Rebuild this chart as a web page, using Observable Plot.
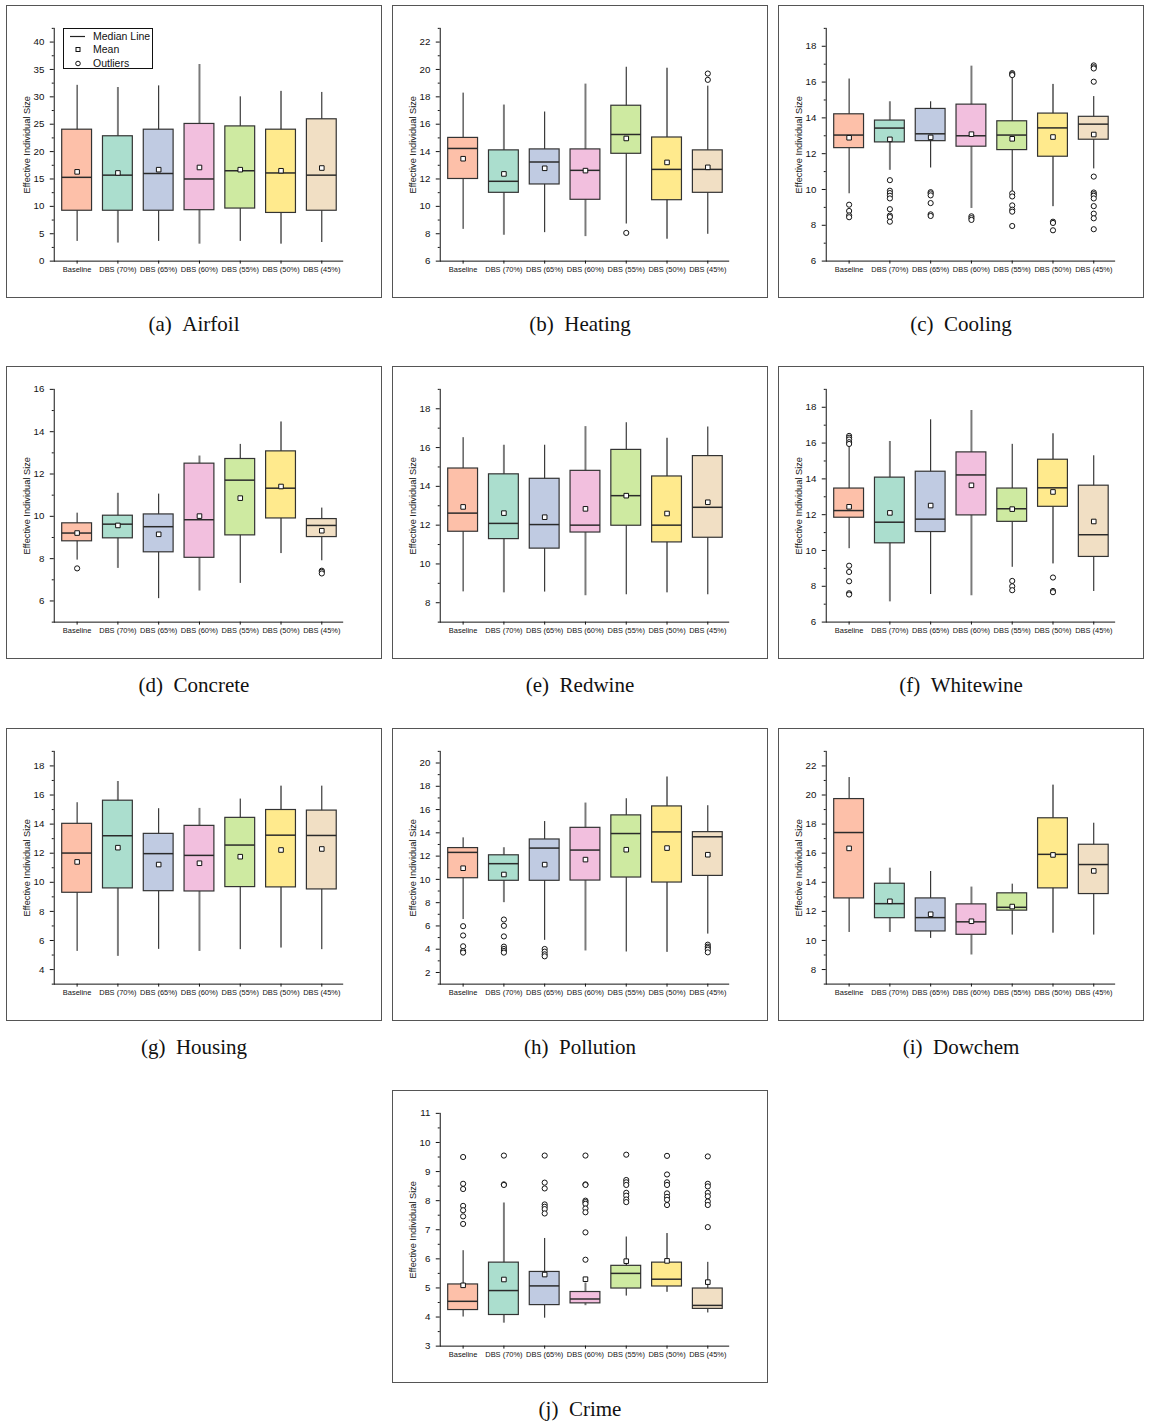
<!DOCTYPE html>
<html><head><meta charset="utf-8">
<script src="https://cdn.jsdelivr.net/npm/d3@7"></script>
<script src="https://cdn.jsdelivr.net/npm/@observablehq/plot@0.6"></script>
<style>
body{margin:0;background:#fff;}
#page{position:relative;width:1151px;height:1426px;background:#fff;}
.panel{position:absolute;height:293px;box-sizing:border-box;border:1px solid #555;overflow:hidden;background:#fff}
.panel svg{position:absolute;left:-1px;top:-1px}
.cap{position:absolute;text-align:center;font-family:"Liberation Serif","DejaVu Serif",serif;font-size:21px;line-height:24px;color:#111;white-space:pre}
.legend{position:absolute;left:56px;top:22px;width:90px;height:41px;box-sizing:border-box;border:1px solid #111;background:#fff;font-family:"Liberation Sans",Arial,sans-serif;font-size:10.5px;color:#111}
.legend .row{position:absolute;left:0;height:13px;line-height:13px;width:88px}
.legend .row span{position:absolute;left:29px;top:0}
.legend .row svg{position:absolute;left:4px;top:0}
</style>
</head><body>
<div id="page"></div>
<script>
const categories = ["Baseline","DBS (70%)","DBS (65%)","DBS (60%)","DBS (55%)","DBS (50%)","DBS (45%)"];
const palette = ["#FDC0A9","#ABDECE","#C0CBE2","#F2BFDE","#CEEAA1","#FFEA8D","#F1DFC4"];

// rows: [whiskerLow, q1, median, q3, whiskerHigh, mean]
const airfoilBox = [[3.6,9.2,15.3,24.0,32.1,16.3],[3.3,9.2,15.7,22.8,31.7,16.1],[3.6,9.2,16.0,24.0,32.0,16.7],[3.1,9.3,15.0,25.05,35.9,17.1],[3.6,9.6,16.5,24.6,30.0,16.7],[3.1,8.8,16.1,24.0,31.0,16.5],[3.4,9.2,15.7,25.9,30.8,17.0]];
const airfoilOut = [[],[],[],[],[],[],[]];

const heatingBox = [[8.32,12.0,14.23,15.0,18.27,13.48],[7.89,10.99,11.83,14.09,17.4,12.37],[8.08,11.6,13.24,14.16,16.89,12.78],[7.79,10.48,12.63,14.16,18.93,12.61],[8.71,13.84,15.25,17.35,20.16,14.96],[7.6,10.45,12.7,15.03,20.09,13.21],[7.96,10.99,12.7,14.09,18.78,12.85]];
const heatingOut = [[],[],[],[],[8.06],[],[19.7,19.24]];

const coolingBox = [[9.76,12.31,13.04,14.2,16.17,12.89],[11.07,12.63,13.43,13.85,14.9,12.8],[11.2,12.7,13.11,14.5,14.9,12.91],[8.94,12.39,13.0,14.74,16.89,13.09],[9.87,12.2,13.04,13.81,16.3,12.83],[9.04,11.83,13.44,14.24,15.87,12.93],[11.15,12.78,13.65,14.06,15.19,13.07]];
const coolingOut = [[9.15,8.8,8.55,8.45],[10.52,9.93,9.8,9.65,9.5,8.9,8.54,8.46,8.2],[9.85,9.78,9.67,9.24,8.61,8.52],[8.5,8.4,8.3],[16.5,16.44,16.39,9.78,9.61,9.11,8.87,8.76,7.96],[8.2,8.13,7.72],[16.93,16.83,16.76,16.02,10.72,9.83,9.74,9.65,9.5,9.07,8.65,8.39,7.78]];

const concreteBox = [[7.93,8.82,9.21,9.67,10.15,9.21],[7.54,8.96,9.63,10.03,11.09,9.57],[6.11,8.3,9.51,10.09,11.05,9.15],[6.47,8.04,9.84,12.49,12.85,10.01],[6.83,9.1,11.71,12.71,13.4,10.86],[8.24,9.9,11.33,13.07,14.46,11.41],[7.9,9.02,9.57,9.87,10.39,9.32]];
const concreteOut = [[7.54],[],[],[],[],[],[7.43,7.38,7.3]];

const redwineBox = [[8.56,11.66,12.62,14.92,16.51,12.94],[8.51,11.28,12.09,14.62,16.12,12.62],[8.55,10.79,12.03,14.39,16.12,12.41],[8.36,11.62,12.0,14.8,17.08,12.84],[8.41,11.97,13.52,15.88,17.28,13.52],[8.51,11.11,12.0,14.51,16.48,12.6],[8.41,11.35,12.92,15.56,17.06,13.18]];
const redwineOut = [[],[],[],[],[],[],[]];

const whitewineBox = [[10.1,11.83,12.23,13.46,15.8,12.44],[7.13,10.4,11.58,14.07,16.09,12.1],[7.54,11.03,11.75,14.4,17.3,12.51],[7.47,11.96,14.22,15.48,17.82,13.64],[9.06,11.6,12.33,13.46,15.93,12.31],[9.25,12.44,13.5,15.07,16.52,13.27],[7.71,9.64,10.88,13.62,15.29,11.62]];
const whitewineOut = [[16.4,16.3,16.2,16.05,15.95,9.15,8.8,8.28,7.61,7.54],[],[],[],[8.3,8.0,7.78],[8.49,7.74,7.67],[]];

const housingBox = [[5.25,9.28,12.01,14.02,15.47,11.4],[4.91,9.58,13.2,15.61,16.93,12.38],[5.39,9.39,11.97,13.33,15.06,11.22],[5.25,9.37,11.85,13.88,15.08,11.31],[5.37,9.67,12.56,14.43,15.72,11.76],[5.48,9.65,13.24,14.97,16.61,12.22],[5.37,9.51,13.22,14.93,16.61,12.29]];
const housingOut = [[],[],[],[],[],[],[]];

const pollutionBox = [[6.55,10.1,12.32,12.69,13.57,10.96],[8.0,9.88,11.35,12.07,12.72,10.42],[4.76,9.88,12.69,13.43,14.97,11.27],[3.85,9.9,12.52,14.43,16.56,11.7],[3.76,10.16,13.94,15.5,16.93,12.55],[3.73,9.73,14.08,16.27,18.8,12.69],[5.3,10.3,13.66,14.06,16.33,12.12]];
const pollutionOut = [[5.98,5.18,4.25,3.85,3.71],[6.55,6.01,5.1,4.22,4.02,3.85,3.71],[4.02,3.79,3.56,3.39],[],[],[],[4.39,4.22,4.1,3.96,3.73]];

const dowchemBox = [[10.55,12.89,17.42,19.72,21.2,16.33],[10.55,11.53,12.53,13.9,14.97,12.69],[10.14,10.62,11.57,12.89,14.74,11.8],[9.0,10.39,11.28,12.48,13.67,11.32],[10.37,12.05,12.28,13.24,13.87,12.33],[10.5,13.58,15.92,18.4,20.68,15.88],[10.37,13.19,15.22,16.58,18.06,14.78]];
const dowchemOut = [[],[],[],[],[],[],[]];

const crimeBox = [[4.0,4.24,4.54,5.12,6.28,5.09],[3.79,4.07,4.91,5.87,7.92,5.29],[3.96,4.41,5.07,5.55,6.7,5.46],[4.39,4.47,4.62,4.86,5.17,5.3],[4.72,4.98,5.5,5.76,6.75,5.92],[4.85,5.05,5.3,5.87,6.87,5.93],[4.14,4.28,4.4,4.98,5.88,5.2]];
const crimeOut = [[9.5,8.58,8.4,7.82,7.67,7.46,7.2],[9.55,8.56,8.54],[9.55,8.62,8.42,7.87,7.79,7.71,7.56],[9.55,8.56,8.54,8.0,7.95,7.89,7.73,7.6,6.91,5.97],[9.58,8.71,8.63,8.54,8.27,8.17,8.04,7.95],[9.54,8.9,8.63,8.54,8.25,8.13,8.03,7.85],[9.52,8.58,8.49,8.27,8.15,7.97,7.85,7.09]];

// y axis: major ticks, minor ticks
const airfoilTicks = [0,5,10,15,20,25,30,35,40], airfoilMinor = [2.5,7.5,12.5,17.5,22.5,27.5,32.5,37.5,42.5];
const heatingTicks = [6,8,10,12,14,16,18,20,22], heatingMinor = [7,9,11,13,15,17,19,21,23];
const coolingTicks = [6,8,10,12,14,16,18], coolingMinor = [7,9,11,13,15,17,19];
const concreteTicks = [6,8,10,12,14,16], concreteMinor = [5,7,9,11,13,15];
const redwineTicks = [8,10,12,14,16,18], redwineMinor = [7,9,11,13,15,17,19];
const whitewineTicks = [6,8,10,12,14,16,18], whitewineMinor = [7,9,11,13,15,17,19];
const housingTicks = [4,6,8,10,12,14,16,18], housingMinor = [3,5,7,9,11,13,15,17,19];
const pollutionTicks = [2,4,6,8,10,12,14,16,18,20], pollutionMinor = [1,3,5,7,9,11,13,15,17,19,21];
const dowchemTicks = [8,10,12,14,16,18,20,22], dowchemMinor = [7,9,11,13,15,17,19,21,23];
const crimeTicks = [3,4,5,6,7,8,9,10,11], crimeMinor = [3.5,4.5,5.5,6.5,7.5,8.5,9.5,10.5];

const panels = [
  {cap:"(a)\u2002Airfoil", box:airfoilBox, out:airfoilOut, domain:[0,42.5], ticks:airfoilTicks, minor:airfoilMinor, left:6, top:5, w:376, legend:true},
  {cap:"(b)\u2002Heating", box:heatingBox, out:heatingOut, domain:[6,23], ticks:heatingTicks, minor:heatingMinor, left:392, top:5, w:376},
  {cap:"(c)\u2002Cooling", box:coolingBox, out:coolingOut, domain:[6,19], ticks:coolingTicks, minor:coolingMinor, left:778, top:5, w:366},
  {cap:"(d)\u2002Concrete", box:concreteBox, out:concreteOut, domain:[5,16], ticks:concreteTicks, minor:concreteMinor, left:6, top:366, w:376},
  {cap:"(e)\u2002Redwine", box:redwineBox, out:redwineOut, domain:[7,19], ticks:redwineTicks, minor:redwineMinor, left:392, top:366, w:376},
  {cap:"(f)\u2002Whitewine", box:whitewineBox, out:whitewineOut, domain:[6,19], ticks:whitewineTicks, minor:whitewineMinor, left:778, top:366, w:366},
  {cap:"(g)\u2002Housing", box:housingBox, out:housingOut, domain:[3,19], ticks:housingTicks, minor:housingMinor, left:6, top:728, w:376},
  {cap:"(h)\u2002Pollution", box:pollutionBox, out:pollutionOut, domain:[1,21], ticks:pollutionTicks, minor:pollutionMinor, left:392, top:728, w:376},
  {cap:"(i)\u2002Dowchem", box:dowchemBox, out:dowchemOut, domain:[7,23], ticks:dowchemTicks, minor:dowchemMinor, left:778, top:728, w:366},
  {cap:"(j)\u2002Crime", box:crimeBox, out:crimeOut, domain:[3,11], ticks:crimeTicks, minor:crimeMinor, left:392, top:1090, w:376}
];

function makePlot(p) {
  const data = p.box.map((r, i) => ({cat: categories[i], i, lo: r[0], q1: r[1], med: r[2], q3: r[3], hi: r[4], mean: r[5]}));
  const od = p.out.flatMap((arr, i) => arr.map(v => ({cat: categories[i], v})));
  return Plot.plot({
    width: p.w, height: 293,
    marginLeft: 48, marginRight: p.w - 339, marginTop: 23, marginBottom: 36,
    style: {fontFamily: "'Liberation Sans', Arial, sans-serif", color: "#111", background: "white", overflow: "visible"},
    x: {domain: categories, paddingInner: 0.28, paddingOuter: 0.14},
    y: {domain: p.domain},
    color: {domain: categories, range: palette},
    marks: [
      Plot.ruleX(data.filter(d => d.i % 2 === 0), {x: "cat", y1: "lo", y2: "hi", stroke: "#111", strokeWidth: 1}),
      Plot.ruleX(data.filter(d => d.i % 2 === 1), {x: "cat", y1: "lo", y2: "hi", stroke: "#7a7a7a", strokeWidth: 2}),
      Plot.barY(data, {x: "cat", y1: "q1", y2: "q3", fill: "cat", stroke: "#333", strokeWidth: 1.2}),
      Plot.tickY(data, {x: "cat", y: "med", stroke: "#2a2a2a", strokeWidth: 1.5}),
      Plot.dot(od, {x: "cat", y: "v", r: 2.6, fill: "white", stroke: "#111", strokeWidth: 1}),
      Plot.dot(data, {x: "cat", y: "mean", symbol: "square", r: 2.6, fill: "white", stroke: "#111", strokeWidth: 1}),
      Plot.axisY({ticks: p.ticks, tickSize: 4, tickPadding: 6, fontSize: 9.8, label: null}),
      Plot.axisY({ticks: p.minor, tickSize: 2, tickFormat: () => "", label: null}),
      Plot.axisX({tickSize: 3, tickPadding: 3, fontSize: 7.5, label: null}),
      Plot.ruleY([p.domain[0]], {stroke: "#111", strokeWidth: 1}),
      Plot.frame({anchor: "left", stroke: "#111"}),
      Plot.text(["Effective Individual Size"], {frameAnchor: "left", textAnchor: "middle", rotate: -90, dx: -27, fontSize: 9.3, fill: "#111"})
    ]
  });
}

const page = document.getElementById("page");
for (const p of panels) {
  const div = document.createElement("div");
  div.className = "panel";
  div.style.left = p.left + "px";
  div.style.top = p.top + "px";
  div.style.width = p.w + "px";
  div.appendChild(makePlot(p));
  if (p.legend) {
    const lg = document.createElement("div");
    lg.className = "legend";
    const items = [
      {t: "Median Line", s: '<svg width="20" height="13"><line x1="2" x2="17" y1="6.5" y2="6.5" stroke="#222" stroke-width="1.2"/></svg>'},
      {t: "Mean", s: '<svg width="20" height="13"><rect x="8" y="4.5" width="4" height="4" fill="white" stroke="#111" stroke-width="1"/></svg>'},
      {t: "Outliers", s: '<svg width="20" height="13"><circle cx="10" cy="6.5" r="2.3" fill="white" stroke="#111" stroke-width="1"/></svg>'}
    ];
    items.forEach((it, k) => {
      const row = document.createElement("div");
      row.className = "row";
      row.style.top = (1 + k * 13.3) + "px";
      row.innerHTML = it.s + "<span>" + it.t + "</span>";
      lg.appendChild(row);
    });
    div.appendChild(lg);
  }
  page.appendChild(div);
  const cap = document.createElement("div");
  cap.className = "cap";
  cap.style.left = p.left + "px";
  cap.style.width = p.w + "px";
  cap.style.top = (p.top + 307) + "px";
  cap.textContent = p.cap;
  page.appendChild(cap);
}
</script>
</body></html>
